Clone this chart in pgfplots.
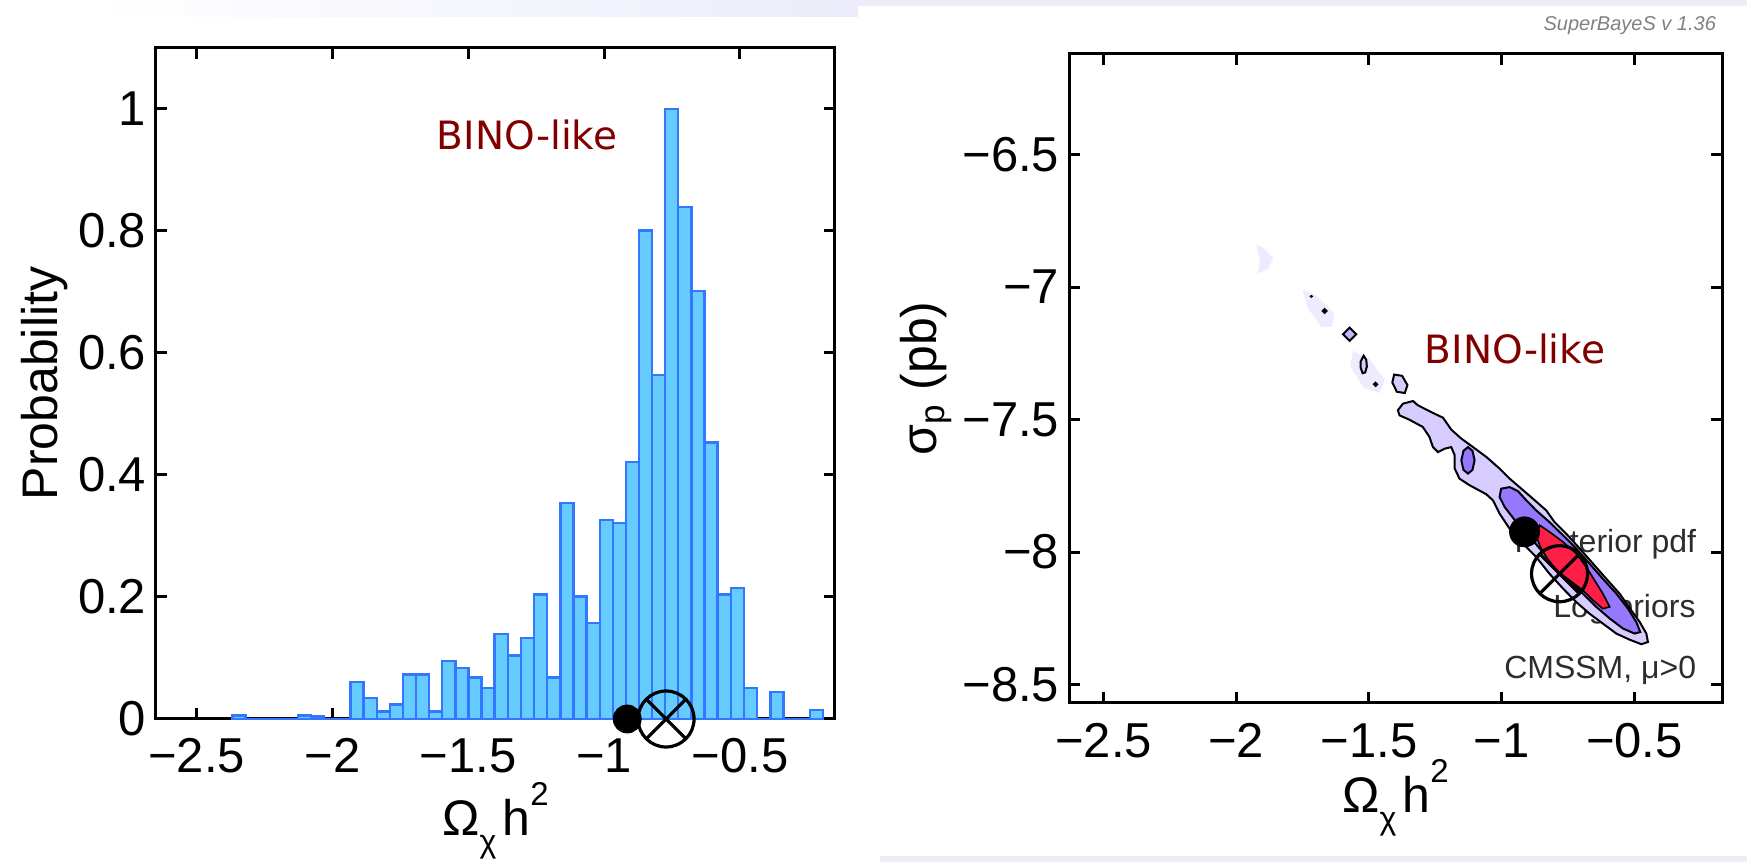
\documentclass[border=0pt]{standalone}
\usepackage{pgfplots}
\pgfplotsset{compat=1.18}
\usepackage{fontspec}
\setmainfont{Liberation Sans}
\newfontfamily\dejavu{DejaVu Sans}
\usetikzlibrary{plotmarks}
\definecolor{barfill}{RGB}{102,204,255}
\definecolor{baredge}{RGB}{51,119,255}
\definecolor{binored}{RGB}{128,0,0}
\definecolor{levA}{RGB}{214,204,255}
\definecolor{levB}{RGB}{150,120,255}
\definecolor{levC}{RGB}{255,30,70}
\definecolor{faint}{RGB}{238,235,255}
\definecolor{band}{RGB}{236,236,250}
\definecolor{txtgray}{RGB}{45,45,45}
\newcommand{\omlabel}{Ω\raisebox{-8.3pt}{\fontsize{16}{18}\selectfont χ}\hspace{3pt}h\raisebox{15pt}{\fontsize{16.5}{18}\selectfont 2}}
\pgfplotsset{
  panel/.style={
    scale only axis,
    axis line style={line width=1.5pt},
    tick style={line width=1.5pt, black},
    major tick length=5.5pt,
    tick align=inside,
    ticklabel style={font=\fontsize{24.5}{28}\selectfont},
    label style={font=\fontsize{25}{30}\selectfont},
    xtick={-2.5,-2,-1.5,-1,-0.5},
    xticklabels={−2.5,−2,−1.5,−1,−0.5},
    xlabel={\omlabel},
    yticklabel style={inner sep=0pt, xshift=-4.7pt, anchor=east},
  }
}
\begin{document}
\begin{tikzpicture}
\useasboundingbox (0,0) rectangle (873.5pt,431pt);
\shade[left color=white, right color=band] (44.5pt,422.5pt) rectangle (429pt,431pt);
\fill[band] (429pt,428pt) rectangle (873.5pt,431pt);
\fill[band] (440pt,0pt) rectangle (873.5pt,3pt);
\node[anchor=base east, font=\itshape\fontsize{10}{12}\selectfont, text=gray] at (861.5pt,415.5pt) {SuperBayeS v 1.36};

% ---------------- left panel: histogram ----------------
\begin{axis}[panel,
  at={(78pt,71.5pt)}, anchor=south west,
  width=339.5pt, height=335.5pt,
  xmin=-2.65, xmax=-0.15, ymin=0, ymax=1.1,
  ytick={0,0.2,0.4,0.6,0.8,1},
  yticklabels={0,0.2,0.4,0.6,0.8,1},
  xticklabel style={inner sep=0pt, yshift=-9.5pt, anchor=north},
  xlabel style={at={(axis description cs:0.5,0)}, anchor=base, inner sep=0pt, yshift=-58.5pt},
  ylabel={Probability},
  ylabel style={at={(axis description cs:-0.1296,0.5)}, anchor=south, inner sep=0pt},
  clip=false,
]
\addplot[ybar interval, fill=barfill, draw=baredge, line width=1.2pt] coordinates {
(-2.369,0.006) (-2.321,0) (-2.272,0) (-2.224,0) (-2.176,0) (-2.127,0.006)
(-2.079,0.004) (-2.031,0) (-1.982,0) (-1.934,0.061) (-1.886,0.034) (-1.837,0.012)
(-1.789,0.024) (-1.741,0.073) (-1.693,0.073) (-1.644,0.012) (-1.596,0.095)
(-1.548,0.084) (-1.499,0.068) (-1.451,0.051) (-1.403,0.139) (-1.354,0.104)
(-1.306,0.133) (-1.258,0.204) (-1.210,0.068) (-1.161,0.354) (-1.113,0.201)
(-1.065,0.157) (-1.016,0.326) (-0.968,0.321) (-0.920,0.421) (-0.871,0.801)
(-0.823,0.564) (-0.775,1.0) (-0.727,0.839) (-0.678,0.702) (-0.630,0.453)
(-0.582,0.204) (-0.533,0.215) (-0.485,0.051) (-0.437,0) (-0.388,0.044)
(-0.340,0) (-0.292,0) (-0.243,0.015) (-0.195,0)
};
\node[font=\dejavu\fontsize{19.5}{22}\selectfont, text=binored] at (axis cs:-1.284,0.957) {BINO-like};
\addplot[only marks, mark=*, mark size=7pt, black] coordinates {(-0.915,0)};
\addplot[only marks, mark=o, mark size=14pt, black, line width=1.6pt] coordinates {(-0.772,0)};
\addplot[only marks, mark=x, mark size=14pt, black, line width=1.6pt] coordinates {(-0.772,0)};
\end{axis}

% ---------------- right panel: 2D posterior ----------------
\begin{axis}[panel,
  at={(534.5pt,79.5pt)}, anchor=south west,
  width=326.5pt, height=324.5pt,
  xmin=-2.63, xmax=-0.17, ymin=-8.57, ymax=-6.12,
  ytick={-8.5,-8,-7.5,-7,-6.5},
  yticklabels={−8.5,−8,−7.5,−7,−6.5},
  xticklabel style={inner sep=0pt, yshift=-10pt, anchor=north},
  xlabel style={at={(axis description cs:0.5,0)}, anchor=base, inner sep=0pt, yshift=-55pt},
  ylabel={σ\textsubscript{p} (pb)},
  ylabel style={at={(axis description cs:-0.179,0.5)}, anchor=south, inner sep=0pt},
]
\node[anchor=base east, font=\fontsize{16}{19}\selectfont, text=txtgray] at (axis cs:-0.241,-8.0) {Posterior pdf};
\node[anchor=base east, font=\fontsize{16}{19}\selectfont, text=txtgray] at (axis cs:-0.243,-8.248) {Log priors};
\node[anchor=base east, font=\fontsize{16}{19}\selectfont, text=txtgray] at (axis cs:-0.241,-8.478) {CMSSM, μ>0};
\node[font=\dejavu\fontsize{19.5}{22}\selectfont, text=binored] at (axis cs:-0.950,-7.235) {BINO-like};
% faint outer islands
\addplot[fill=faint, draw=none] coordinates {(-1.925,-6.84) (-1.90,-6.85) (-1.86,-6.89) (-1.88,-6.93) (-1.92,-6.95) (-1.91,-6.90)} --cycle;
\addplot[fill=faint, draw=none] coordinates {(-1.75,-7.01) (-1.70,-7.03) (-1.63,-7.10) (-1.64,-7.15) (-1.68,-7.15) (-1.73,-7.08)} --cycle;
\addplot[fill=faint, draw=none] coordinates {(-1.56,-7.24) (-1.50,-7.27) (-1.44,-7.35) (-1.46,-7.40) (-1.52,-7.38) (-1.57,-7.30)} --cycle;
% small islands
\addplot[fill=levA!70!levB, draw=black, line width=1pt] coordinates {(-1.573,-7.153) (-1.548,-7.178) (-1.573,-7.203) (-1.598,-7.178)} --cycle;
\addplot[fill=levA, draw=black, line width=1pt] coordinates {(-1.520,-7.259) (-1.510,-7.275) (-1.508,-7.300) (-1.514,-7.322) (-1.524,-7.325) (-1.531,-7.305) (-1.531,-7.280)} --cycle;
\addplot[fill=black, draw=black] coordinates {(-1.667,-7.080) (-1.657,-7.090) (-1.667,-7.100) (-1.677,-7.090)} --cycle;
\addplot[fill=black, draw=black] coordinates {(-1.717,-7.031) (-1.712,-7.035) (-1.717,-7.039) (-1.722,-7.035)} --cycle;
\addplot[fill=black, draw=black] coordinates {(-1.475,-7.358) (-1.466,-7.367) (-1.475,-7.376) (-1.484,-7.367)} --cycle;
\addplot[fill=levA, draw=black, line width=1pt] coordinates {(-1.405,-7.330) (-1.375,-7.335) (-1.355,-7.370) (-1.365,-7.400) (-1.395,-7.395) (-1.412,-7.360)} --cycle;
% outer (lightest) contour
\addplot[fill=levA, draw=black, line width=1pt] coordinates {
(-1.391,-7.465) (-1.372,-7.440) (-1.334,-7.430) (-1.316,-7.446) (-1.259,-7.475)
(-1.221,-7.493) (-1.190,-7.538) (-1.152,-7.572) (-1.108,-7.604) (-1.058,-7.641)
(-1.008,-7.685) (-0.970,-7.723) (-0.933,-7.755) (-0.882,-7.799) (-0.832,-7.843)
(-0.801,-7.887) (-0.757,-7.931) (-0.706,-7.987) (-0.656,-8.044) (-0.606,-8.101)
(-0.556,-8.157) (-0.512,-8.220) (-0.480,-8.264) (-0.455,-8.308) (-0.449,-8.340)
(-0.474,-8.348) (-0.518,-8.331) (-0.568,-8.308) (-0.619,-8.270) (-0.669,-8.233)
(-0.719,-8.189) (-0.769,-8.138) (-0.820,-8.082) (-0.870,-8.019) (-0.920,-7.968)
(-0.970,-7.912) (-1.008,-7.855) (-1.033,-7.805) (-1.058,-7.782) (-1.121,-7.748)
(-1.159,-7.723) (-1.177,-7.685) (-1.177,-7.635) (-1.190,-7.604) (-1.215,-7.610)
(-1.240,-7.623) (-1.259,-7.604) (-1.272,-7.566) (-1.297,-7.528) (-1.347,-7.501)
(-1.385,-7.484)
} --cycle;
% middle contour
\addplot[fill=levB, draw=black, line width=1pt] coordinates {(-1.127,-7.604) (-1.110,-7.618) (-1.102,-7.654) (-1.110,-7.690) (-1.127,-7.704) (-1.144,-7.690) (-1.152,-7.654) (-1.144,-7.618)} --cycle;
\addplot[fill=levB, draw=black, line width=1pt] coordinates {
(-1.002,-7.761) (-0.970,-7.755) (-0.939,-7.770) (-0.907,-7.805) (-0.870,-7.843)
(-0.820,-7.887) (-0.769,-7.937) (-0.719,-7.987) (-0.669,-8.044) (-0.619,-8.101)
(-0.568,-8.157) (-0.524,-8.214) (-0.493,-8.264) (-0.478,-8.302)
(-0.499,-8.308) (-0.543,-8.289) (-0.593,-8.251) (-0.644,-8.207) (-0.694,-8.157)
(-0.744,-8.107) (-0.794,-8.057) (-0.845,-8.000) (-0.895,-7.943) (-0.945,-7.887)
(-0.989,-7.830) (-1.008,-7.792)
} --cycle;
% inner (highest) contour
\addplot[fill=levC, draw=black, line width=0.8pt] coordinates {
(-0.857,-7.899) (-0.820,-7.924) (-0.769,-7.962) (-0.719,-8.006) (-0.681,-8.057)
(-0.650,-8.107) (-0.619,-8.157) (-0.593,-8.207)
(-0.619,-8.214) (-0.656,-8.182) (-0.694,-8.145) (-0.744,-8.107) (-0.794,-8.069)
(-0.832,-8.019) (-0.857,-7.975) (-0.870,-7.937)
} --cycle;
\addplot[only marks, mark=*, mark size=7.5pt, black] coordinates {(-0.914,-7.924)};
\addplot[only marks, mark=o, mark size=14pt, black, line width=1.6pt] coordinates {(-0.782,-8.082)};
\addplot[only marks, mark=x, mark size=14pt, black, line width=1.6pt] coordinates {(-0.782,-8.082)};
\end{axis}
\end{tikzpicture}
\end{document}
